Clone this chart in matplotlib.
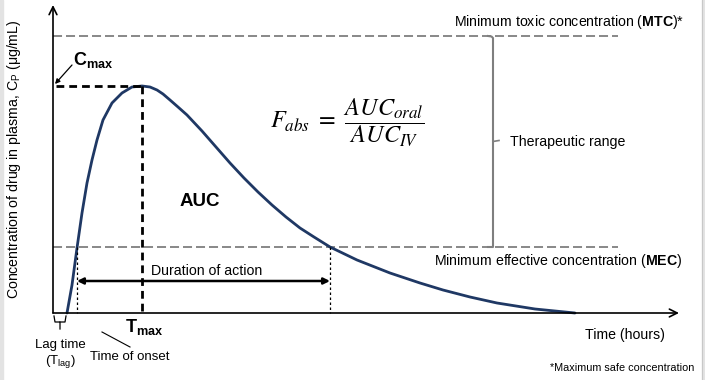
import numpy as np
import matplotlib.pyplot as plt
from matplotlib.patches import Rectangle

plt.rcParams["font.family"] = ["Liberation Sans", "DejaVu Sans"]
plt.rcParams["mathtext.fontset"] = "custom"
plt.rcParams["mathtext.rm"] = "Liberation Sans"
plt.rcParams["mathtext.bf"] = "Liberation Sans:bold"
plt.rcParams["mathtext.it"] = "Liberation Sans:italic"

# Plasma concentration curve (time in hours, concentration in ug/mL)
time_h = [0.28, 0.38, 0.48, 0.58, 0.68, 0.78, 0.88, 1.00, 1.18, 1.38,
          1.58, 1.78, 1.94, 2.08, 2.20, 2.34, 2.50, 2.68, 2.98, 3.26,
          3.54, 3.82, 4.10, 4.38, 4.66, 4.94, 5.22, 5.54, 6.08, 6.74,
          7.34, 7.80, 8.34, 8.88, 9.64, 10.44]
conc = [0.0, 2.8, 6.5, 10.0, 13.0, 15.3, 17.3, 19.3, 21.0, 22.0,
        22.6, 22.7, 22.6, 22.3, 21.9, 21.3, 20.6, 19.8, 18.2, 16.6,
        15.0, 13.5, 12.1, 10.8, 9.6, 8.5, 7.6, 6.6, 5.3, 4.0,
        3.0, 2.3, 1.6, 1.0, 0.4, 0.0]

mtc = 27.7       # minimum toxic concentration
mec = 6.6        # minimum effective concentration
t_lag = 0.28
t_onset = 0.48
t_end = 5.54
t_max = 1.78
c_max = 22.7
x_axis_end = 12.52
y_axis_end = 30.8
ref_line_end = 11.3

# pixel frame of the picture -> data units
X0, Y0 = 53, 313
SX, SY = 50.0, 10.0


def px(x, y):
    return (x - X0) / SX, (Y0 - y) / SY


FS = 10.2

fig = plt.figure(figsize=(7.05, 3.8), dpi=100)
fig.patch.set_facecolor("white")
ax = fig.add_axes([0, 0, 1, 1])
ax.set_xlim(px(0, 0)[0], px(705, 0)[0])
ax.set_ylim(px(0, 380)[1], px(0, 0)[1])
ax.axis("off")

# light grey frame strips
fig.patches.append(Rectangle((0, 0), 3 / 705, 1, transform=fig.transFigure,
                             color="#e3e3e3", zorder=0))
fig.patches.append(Rectangle((702 / 705, 0), 3 / 705, 1, transform=fig.transFigure,
                             color="#e3e3e3", zorder=0))
fig.lines.append(plt.Line2D([702 / 705, 702 / 705], [0, 1], transform=fig.transFigure,
                            color="#c8c8c8", lw=0.8))

# axes with open arrows
arrow_kw = dict(arrowstyle="->", lw=1.2, color="black", shrinkA=0, shrinkB=0,
                mutation_scale=14)
ax.annotate("", xy=(0, y_axis_end), xytext=(0, 0), arrowprops=arrow_kw)
ax.annotate("", xy=(x_axis_end, 0), xytext=(0, 0), arrowprops=arrow_kw)

# MTC / MEC reference lines
for level in (mtc, mec):
    ax.plot([0, ref_line_end], [level, level], color="#7f7f7f", lw=1.3,
            dashes=(5, 2.2))

# concentration curve
ax.plot(time_h, conc, color="#1f3864", lw=2.0, solid_capstyle="round",
        solid_joinstyle="round")

# Cmax / Tmax dashed guides
ax.plot([0.06, t_max], [c_max, c_max], color="black", lw=2.0, dashes=(2.8, 1.8))
ax.plot([t_max, t_max], [c_max, 0], color="black", lw=2.0, dashes=(2.8, 1.8))

# onset / end of action dotted guides
for t in (t_onset, t_end):
    ax.plot([t, t], [mec, 0], color="black", lw=0.9, dashes=(2, 2))

# duration of action arrow
dur_y = px(0, 281)[1]
ax.annotate("", xy=(t_onset, dur_y), xytext=(t_end, dur_y),
            arrowprops=dict(arrowstyle="<|-|>", lw=1.8, color="black",
                            shrinkA=0, shrinkB=0, mutation_scale=9))
ax.text(*px(207, 271), "Duration of action", ha="center", va="center", fontsize=FS)

# therapeutic range bracket
bx = px(493, 0)[0]
ax.plot([px(488, 0)[0], bx - 0.03, bx, bx, px(488, 0)[0]],
        [mtc, mtc - 0.05, mtc - 0.2, mec, mec], color="#7f7f7f", lw=1.5)
mid = (mtc + mec) / 2
ax.plot([bx, px(499, 0)[0]], [mid, mid + 0.1], color="#7f7f7f", lw=1.2)
ax.text(*px(510, 142), "Therapeutic range", ha="left", va="center", fontsize=FS)

# labels
ax.text(*px(684, 22), r"Minimum toxic concentration ($\mathbf{MTC}$)*",
        ha="right", va="center", fontsize=FS)
ax.text(*px(682, 261), r"Minimum effective concentration ($\mathbf{MEC}$)",
        ha="right", va="center", fontsize=FS)
ax.text(*px(625, 335), "Time (hours)", ha="center", va="center", fontsize=FS)
ax.text(*px(694, 368), "*Maximum safe concentration", ha="right", va="center",
        fontsize=7.8)
ax.text(*px(14, 159), r"Concentration of drug in plasma, C$_\mathrm{P}$ ($\mathrm{\mu}$g/mL)",
        rotation=90, ha="center", va="center", fontsize=FS)

ax.text(*px(200, 202), "AUC", ha="center", va="center", fontsize=13.5,
        fontweight="bold")
ax.text(*px(93, 60), r"$\mathbf{C}_{\mathbf{max}}$", ha="center", va="center",
        fontsize=13)
ax.annotate("", xy=px(55, 84), xytext=px(72, 65),
            arrowprops=dict(arrowstyle="-|>", lw=0.9, color="black",
                            shrinkA=0, shrinkB=0, mutation_scale=7))
ax.text(*px(144, 327), r"$\mathbf{T}_{\mathbf{max}}$", ha="center", va="center",
        fontsize=13)

ax.text(*px(347, 123), r"$F_{abs}\ =\ \dfrac{AUC_{oral}}{AUC_{IV}}$",
        ha="center", va="center", fontsize=17.5, math_fontfamily="stix")

# lag time brace below the axis
yb0, yb1, yb2 = px(0, 316)[1], px(0, 322)[1], px(0, 329)[1]
tc = t_lag / 2
ax.plot([0.02, 0.04, tc, tc], [yb0, yb1, yb1, yb2], color="black", lw=0.9)
ax.plot([t_lag - 0.02, t_lag - 0.04, tc], [yb0, yb1, yb1], color="black", lw=0.9)
ax.text(*px(60, 345), "Lag time", ha="center", va="center", fontsize=9.5)
ax.text(*px(60, 361), r"(T$_\mathrm{lag}$)", ha="center", va="center", fontsize=9.5)

ax.plot(*zip(px(102, 332), px(130, 347)), color="black", lw=0.8)
ax.text(*px(130, 357), "Time of onset", ha="center", va="center", fontsize=9.5)

fig.savefig("out.png", dpi=100)
